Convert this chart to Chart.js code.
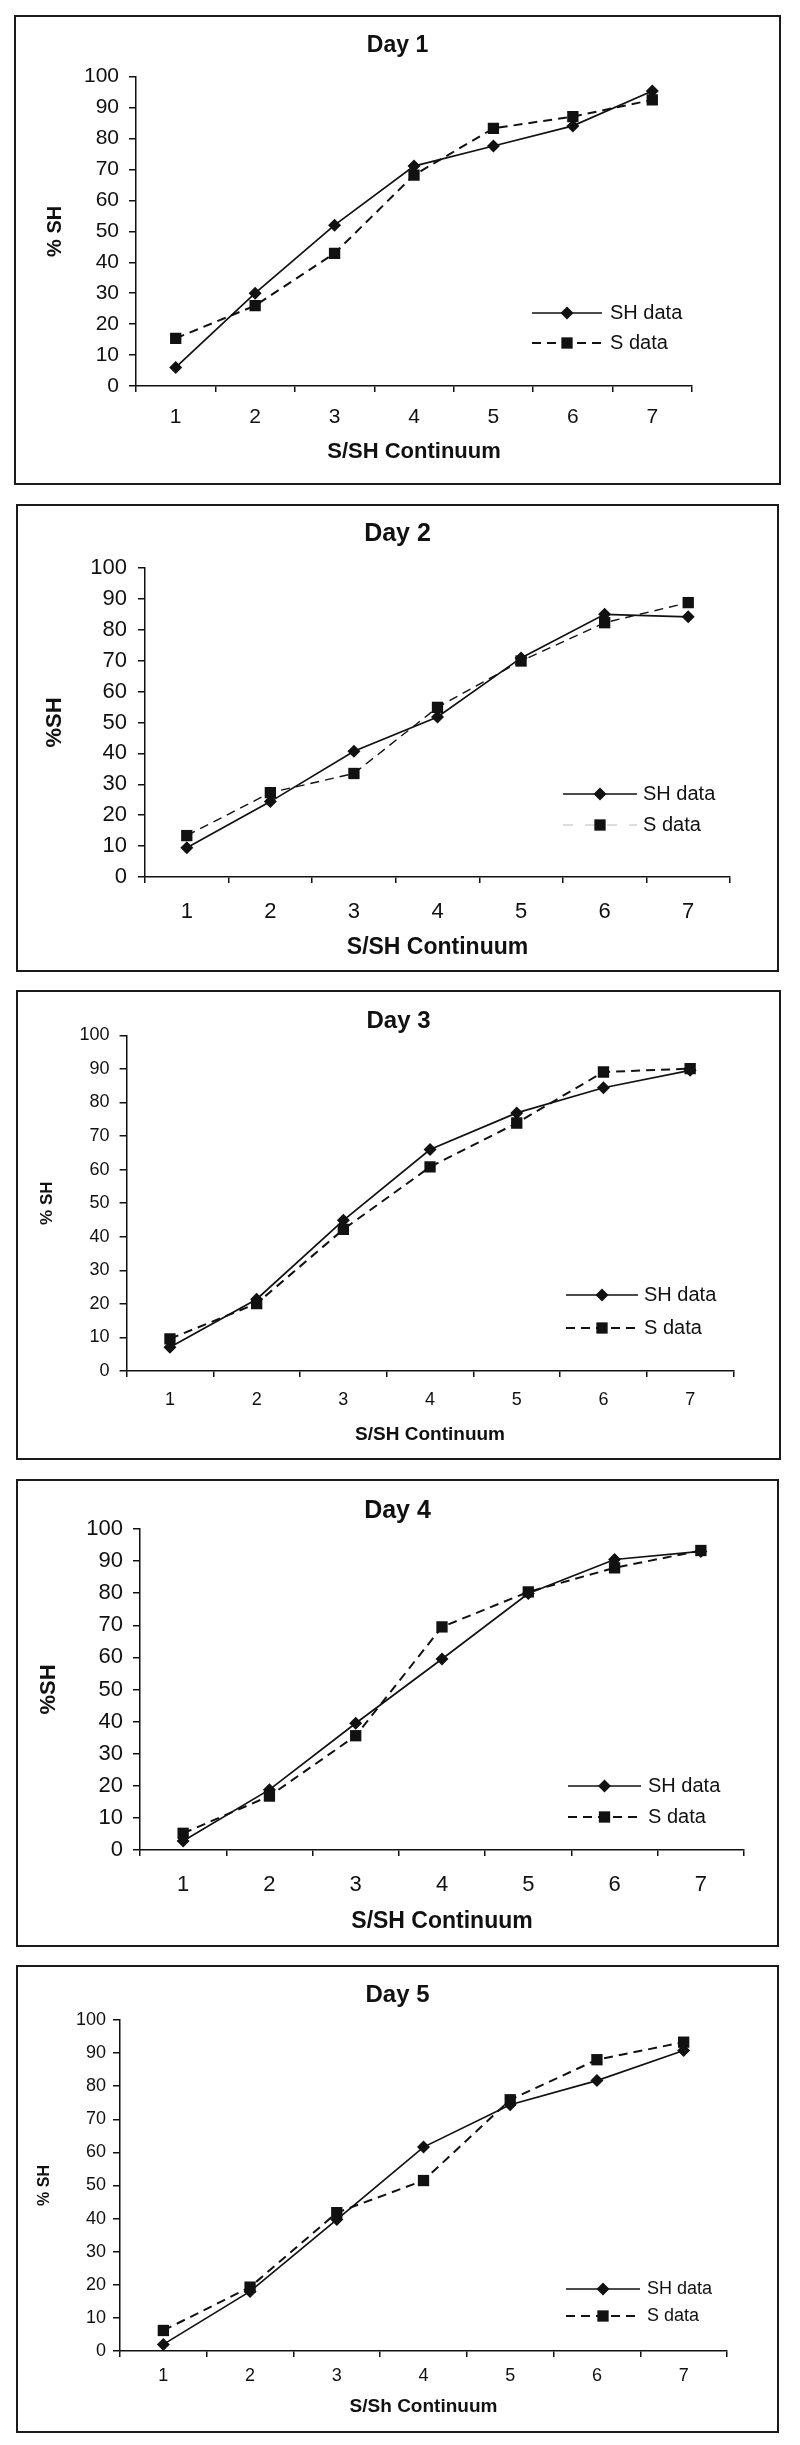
<!DOCTYPE html>
<html>
<head>
<meta charset="utf-8">
<title>% SH across the S/SH continuum, days 1 to 5</title>
<script src="https://cdn.jsdelivr.net/npm/chart.js@4.4.1/dist/chart.umd.min.js"></script>
<style>
  html, body { margin: 0; padding: 0; background: #fff; }
  #page { position: relative; width: 800px; height: 2445px; }
  .panel { position: absolute; box-sizing: border-box; border: 2px solid #1b1b1b; background: #fff; }
  .panel canvas { display: block; }
</style>
</head>
<body>
<div id="page"></div>
<script>
// --- datos (% SH por punto del continuo) ---
const categories = ['1', '2', '3', '4', '5', '6', '7'];
const seriesNames = ['SH data', 'S data'];
const dayTitles = ['Day 1', 'Day 2', 'Day 3', 'Day 4', 'Day 5'];
const xTitles = ['S/SH Continuum', 'S/SH Continuum', 'S/SH Continuum', 'S/SH Continuum', 'S/Sh Continuum'];
const yTitles = ['% SH', '%SH', '% SH', '%SH', '% SH'];
const yMin = 0, yMax = 100, yStep = 10;

const shDay1 = [6.0, 30.0, 52.0, 71.1, 77.6, 84.1, 95.4];
const sDay1  = [15.4, 26.0, 42.9, 68.2, 83.3, 87.1, 92.5];
const shDay2 = [9.5, 24.4, 40.7, 51.8, 70.9, 85.0, 84.2];
const sDay2  = [13.4, 27.3, 33.5, 54.9, 69.9, 82.3, 88.8];
const shDay3 = [7.1, 21.4, 44.9, 66.0, 76.9, 84.4, 89.6];
const sDay3  = [9.6, 20.1, 42.2, 60.8, 73.9, 89.1, 90.1];
const shDay4 = [2.8, 18.8, 39.5, 59.5, 79.9, 90.5, 93.0];
const sDay4  = [5.2, 16.8, 35.6, 69.5, 80.4, 87.9, 93.3];
const shDay5 = [2.0, 18.0, 39.7, 61.6, 74.4, 81.7, 90.8];
const sDay5  = [6.2, 19.3, 41.8, 51.5, 75.9, 88.0, 93.3];

const shSeries = [shDay1, shDay2, shDay3, shDay4, shDay5];
const sSeries = [sDay1, sDay2, sDay3, sDay4, sDay5];

// --- maquetación de cada recuadro (px de la página) ---
const INK = '#111';
const FAMILY = '"Liberation Sans", Arial, sans-serif';
const BORDER = 2;
const Y_TICK = 7, X_TICK = 6;

const PANELS = [
  { box: [14, 15, 781, 485], axisX: 136, axisEnd: 692, top: 76.7, zero: 386,
    titleY: 46, xLabelY: 417, xTitleY: 452, yTitleX: 55, labelGap: 10,
    fonts: { title: 23, tick: 21, xTitle: 22, yTitle: 20, legend: 20 },
    legend: { x1: 532, x2: 602, tx: 610, ys: [313, 343] } },
  { box: [16, 504, 779, 972], axisX: 145, axisEnd: 730, top: 568, zero: 877,
    titleY: 534, xLabelY: 912, xTitleY: 948, yTitleX: 55, labelGap: 11,
    fonts: { title: 25, tick: 22, xTitle: 23, yTitle: 22, legend: 20 },
    legend: { x1: 563, x2: 637, tx: 643, ys: [794, 825] },
    sLegend: { color: '#bbb', width: 1, dash: [10, 12] } },
  { box: [16, 990, 781, 1460], axisX: 126.6, axisEnd: 733.5, top: 1035, zero: 1371,
    titleY: 1021, xLabelY: 1400, xTitleY: 1435, yTitleX: 47, labelGap: 10,
    fonts: { title: 24, tick: 18, xTitle: 19, yTitle: 17, legend: 20 },
    legend: { x1: 566, x2: 638, tx: 644, ys: [1295, 1328] } },
  { box: [16, 1479, 779, 1947], axisX: 140, axisEnd: 744, top: 1529, zero: 1850,
    titleY: 1511, xLabelY: 1885, xTitleY: 1922, yTitleX: 49, labelGap: 10,
    fonts: { title: 25, tick: 22, xTitle: 23, yTitle: 22, legend: 20 },
    legend: { x1: 568, x2: 641, tx: 648, ys: [1786, 1817] } },
  { box: [16, 1965, 779, 2433], axisX: 120, axisEnd: 727, top: 2020, zero: 2351,
    titleY: 1995, xLabelY: 2376, xTitleY: 2407, yTitleX: 45, labelGap: 7,
    fonts: { title: 24, tick: 18, xTitle: 19, yTitle: 16, legend: 18 },
    legend: { x1: 566, x2: 640, tx: 647, ys: [2289, 2316] } },
];

// leyenda dentro del área de trazado: línea + marcador + texto
const insideLegend = {
  id: 'insideLegend',
  afterDatasetsDraw(chart, args, opts) {
    const ctx = chart.ctx;
    ctx.save();
    chart.data.datasets.forEach((ds, i) => {
      const y = opts.ys[i];
      const lg = ds.legendLine || {};
      ctx.beginPath();
      ctx.setLineDash(lg.dash || ds.borderDash || []);
      ctx.lineWidth = lg.width || ds.borderWidth;
      ctx.strokeStyle = lg.color || ds.borderColor;
      ctx.moveTo(opts.x1, y);
      ctx.lineTo(opts.x2, y);
      ctx.stroke();
      ctx.setLineDash([]);

      const cx = (opts.x1 + opts.x2) / 2, r = ds.pointRadius;
      ctx.fillStyle = ds.pointBackgroundColor;
      ctx.beginPath();
      if (ds.pointStyle === 'rectRot') {
        ctx.moveTo(cx, y - r); ctx.lineTo(cx + r, y); ctx.lineTo(cx, y + r); ctx.lineTo(cx - r, y);
        ctx.closePath();
      } else {
        const h = r * Math.SQRT1_2;
        ctx.rect(cx - h, y - h, 2 * h, 2 * h);
      }
      ctx.fill();

      ctx.fillStyle = INK;
      ctx.font = `${opts.fontSize}px ${FAMILY}`;
      ctx.textBaseline = 'middle';
      ctx.textAlign = 'left';
      ctx.fillText(ds.label, opts.tx, y);
    });
    ctx.restore();
  },
};

const page = document.getElementById('page');

PANELS.forEach((p, i) => {
  const [bl, bt, br, bb] = p.box;
  const cl = bl + BORDER, ct = bt + BORDER, cr = br - BORDER, cb = bb - BORDER;

  const div = document.createElement('div');
  div.className = 'panel';
  Object.assign(div.style, { left: bl + 'px', top: bt + 'px', width: (br - bl) + 'px', height: (bb - bt) + 'px' });
  const canvas = document.createElement('canvas');
  canvas.width = cr - cl;
  canvas.height = cb - ct;
  div.appendChild(canvas);
  page.appendChild(div);

  const f = p.fonts;
  const titlePadTop = (p.titleY - ct) - f.title * 0.6;
  const titlePadBottom = Math.max(0, (p.top - ct) - titlePadTop - f.title * 1.2);

  const sh = {
    label: seriesNames[0], data: shSeries[i], yAxisID: 'y',
    borderColor: INK, borderWidth: 1.7, tension: 0, fill: false,
    pointStyle: 'rectRot', pointRadius: 6.5, pointHoverRadius: 6.5,
    pointBackgroundColor: INK, pointBorderWidth: 0,
  };
  const s = {
    label: seriesNames[1], data: sSeries[i], yAxisID: 'y',
    borderColor: INK, borderWidth: i === 1 ? 1.4 : 2, borderDash: [9, 6], tension: 0, fill: false,
    pointStyle: 'rect', pointRadius: 8, pointHoverRadius: 8,
    pointBackgroundColor: INK, pointBorderWidth: 0,
    legendLine: p.sLegend,
  };

  new Chart(canvas, {
    type: 'line',
    data: { labels: categories, datasets: [sh, s] },
    plugins: [insideLegend],
    options: {
      responsive: false, animation: false, events: [],
      layout: { padding: 0 },
      plugins: {
        legend: { display: false },
        tooltip: { enabled: false },
        title: {
          display: true, text: dayTitles[i], color: INK,
          font: { family: FAMILY, size: f.title, weight: 'bold' },
          padding: { top: titlePadTop, bottom: titlePadBottom },
        },
        insideLegend: {
          x1: p.legend.x1 - cl, x2: p.legend.x2 - cl, tx: p.legend.tx - cl,
          ys: p.legend.ys.map((y) => y - ct), fontSize: f.legend,
        },
      },
      scales: {
        x: {
          type: 'category', offset: true,
          grid: { offset: true, drawOnChartArea: false, tickLength: X_TICK, color: INK, lineWidth: 1.5 },
          border: { display: true, color: INK, width: 1.5 },
          ticks: {
            color: INK, maxRotation: 0, autoSkip: false,
            font: { family: FAMILY, size: f.tick },
            padding: (p.xLabelY - p.zero) - X_TICK - f.tick * 0.6,
          },
          title: {
            display: true, text: xTitles[i], color: INK,
            font: { family: FAMILY, size: f.xTitle, weight: 'bold' },
            padding: { top: 0, bottom: (cb - p.xTitleY) - f.xTitle * 0.6 },
          },
          afterFit: (sc) => { sc.height = cb - p.zero; },
        },
        y: {
          min: yMin, max: yMax,
          grid: { drawOnChartArea: false, tickLength: Y_TICK, color: INK, lineWidth: 1.5 },
          border: { display: true, color: INK, width: 1.5 },
          ticks: {
            stepSize: yStep, color: INK, padding: p.labelGap,
            font: { family: FAMILY, size: f.tick },
          },
          title: {
            display: true, text: yTitles[i], color: INK,
            font: { family: FAMILY, size: f.yTitle, weight: 'bold' },
            padding: { top: (p.yTitleX - cl) - f.yTitle * 0.6, bottom: 0 },
          },
          afterFit: (sc) => { sc.width = p.axisX - cl; },
        },
        // margen derecho vacío (no desplaza el título, que ocupa todo el ancho)
        spacer: {
          axis: 'y', position: 'right', min: yMin, max: yMax,
          ticks: { display: false }, grid: { display: false }, border: { display: false },
          afterFit: (sc) => { sc.width = cr - p.axisEnd; },
        },
      },
    },
  });
});
</script>
</body>
</html>
